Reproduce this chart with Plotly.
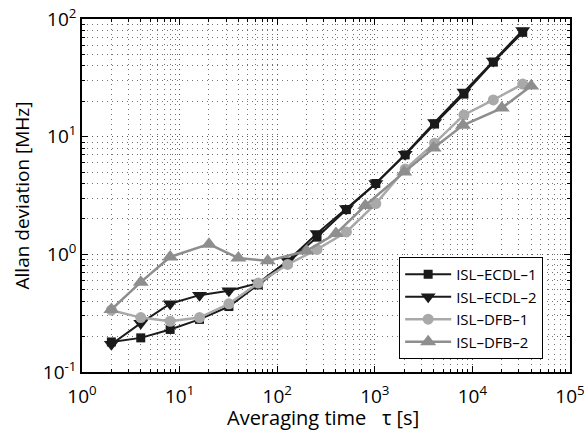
import plotly.graph_objects as go

# Data
tau_std = [2, 4, 8, 16, 32, 64, 128, 256, 512, 1024, 2048, 4096, 8192, 16384, 32768]
tau_dfb2 = [2, 4, 8, 20, 40, 80, 200, 400, 800, 2000, 4000, 8000, 20000, 40000]
ecdl1 = [0.18, 0.195, 0.23, 0.28, 0.36, 0.55, 0.85, 1.4, 2.4, 4.0, 7.0, 12.8, 23, 43, 77]
ecdl2 = [0.172, 0.26, 0.38, 0.45, 0.49, 0.57, 0.88, 1.5, 2.45, 4.0, 7.1, 13.2, 24, 44, 80]
dfb1 = [0.335, 0.29, 0.27, 0.29, 0.38, 0.57, 0.82, 1.1, 1.55, 2.7, 5.3, 8.8, 15.3, 20.5, 28]
dfb2 = [0.34, 0.58, 0.95, 1.22, 0.93, 0.88, 1.07, 1.5, 2.6, 5.0, 8.0, 12.5, 17.5, 27]

series_names = ["ISL\u2013ECDL\u20131", "ISL\u2013ECDL\u20132", "ISL\u2013DFB\u20131", "ISL\u2013DFB\u20132"]
x_exps = [0, 1, 2, 3, 4, 5]
y_exps = [-1, 0, 1, 2]
x_title = "Averaging time\u00a0\u00a0\u00a0\u03c4 [s]"
y_title = "Allan deviation [MHz]"

FONT = "Open Sans"
black = "#1a1a1a"
light = "#a9a9a9"
mid = "#8e8e8e"

fig = go.Figure()
fig.add_trace(go.Scatter(x=tau_std, y=ecdl1, name=series_names[0], mode="lines+markers",
                         line=dict(color=black, width=2),
                         marker=dict(symbol="square", size=9, color=black)))
fig.add_trace(go.Scatter(x=tau_std, y=ecdl2, name=series_names[1], mode="lines+markers",
                         line=dict(color=black, width=2),
                         marker=dict(symbol="triangle-down", size=13, color=black)))
fig.add_trace(go.Scatter(x=tau_std, y=dfb1, name=series_names[2], mode="lines+markers",
                         line=dict(color=light, width=2.5),
                         marker=dict(symbol="circle", size=11, color=light)))
fig.add_trace(go.Scatter(x=tau_dfb2, y=dfb2, name=series_names[3], mode="lines+markers",
                         line=dict(color=mid, width=2.5),
                         marker=dict(symbol="triangle-up", size=14, color=mid)))

def minor_vals(exps):
    vals = []
    for e in exps[:-1]:
        for m in range(2, 10):
            vals.append(m * 10 ** e)
    return vals

def major_vals(exps):
    return [10.0 ** e for e in exps]

GRID_DASH = "1px,4px"
axis_common = dict(
    type="log", showline=True, linecolor="black", linewidth=1.5, mirror="ticks",
    ticks="inside", ticklen=6, tickcolor="black", automargin=False,
    showgrid=True, gridcolor="rgba(0,0,0,0.65)", griddash=GRID_DASH, gridwidth=1,
    tickfont=dict(family=FONT, size=19, color="black"),
    ticklabeloverflow="allow",
    zeroline=False,
)
minor_common = dict(tickmode="array", ticks="inside", ticklen=3, tickcolor="black",
                    showgrid=True, gridcolor="rgba(0,0,0,0.55)", griddash=GRID_DASH, gridwidth=1)

fig.update_layout(
    width=584, height=430,
    margin=dict(l=82, r=14, t=19, b=58),
    paper_bgcolor="white", plot_bgcolor="white",
    font=dict(family=FONT, color="black"),
    showlegend=True,
    legend=dict(x=0.945, y=0.326, xanchor="right", yanchor="top",
                bgcolor="white", bordercolor="black", borderwidth=1,
                font=dict(family=FONT, size=15, color="black"),
                tracegroupgap=0, itemwidth=46),
    xaxis=dict(axis_common,
               range=[0, 5], tickmode="array", tickvals=major_vals(x_exps),
               ticktext=["10<sup>%d</sup>" % e for e in x_exps],
               ticklabelstandoff=6,
               minor=dict(minor_common, tickvals=minor_vals(x_exps))),
    yaxis=dict(axis_common,
               range=[-1, 2], tickmode="array", tickvals=major_vals(y_exps),
               ticktext=["10<sup>%d</sup>" % e for e in y_exps],
               minor=dict(minor_common, tickvals=minor_vals(y_exps)),
               title=dict(text=y_title, font=dict(family=FONT, size=19), standoff=8)),
    annotations=[dict(text=x_title, xref="paper", yref="paper", x=0.493, y=0,
                      xanchor="center", yanchor="middle", yshift=-45, showarrow=False,
                      font=dict(family=FONT, size=20, color="black"))],
)

fig.write_html("out.html", config={"displayModeBar": False},
               post_script="document.body.style.margin='0';document.body.style.padding='0';")
